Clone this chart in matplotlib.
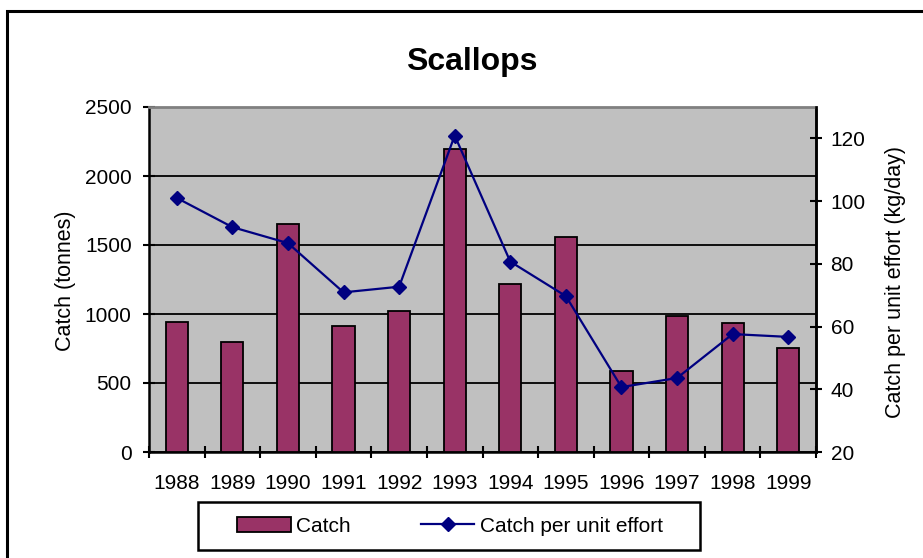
import matplotlib
matplotlib.use("Agg")
import matplotlib.pyplot as plt
from matplotlib.lines import Line2D
from matplotlib.patches import Patch, Rectangle
import numpy as np

years = ["1988", "1989", "1990", "1991", "1992", "1993",
         "1994", "1995", "1996", "1997", "1998", "1999"]
catch = [945, 795, 1650, 910, 1020, 2195, 1215, 1555, 590, 985, 935, 755]
cpue = [101, 91.7, 86.6, 70.9, 72.7, 120.9, 80.7, 69.7, 40.7, 43.6, 57.6, 56.7]

W, H = 923, 558
plt.rcParams['font.family'] = ['Liberation Sans', 'DejaVu Sans']
fig = plt.figure(figsize=(W / 100, H / 100), dpi=100)

L, R, T, B = 149, 816, 107, 452
ax = fig.add_axes([L / W, 1 - B / H, (R - L) / W, (B - T) / H])
ax.set_facecolor('#C0C0C0')
x = np.arange(len(years))
ax.bar(x, catch, width=0.4, color='#993366', edgecolor='black', linewidth=1.3, zorder=3)
ax.set_xlim(-0.5, len(years) - 0.5)
ax.set_ylim(0, 2500)
ax.set_yticks(np.arange(0, 2501, 500))
ax.yaxis.grid(True, color='black', linewidth=1.3, zorder=1)
ax.set_axisbelow(True)
ax.set_xticks(x)
ax.set_xticklabels(years)
ax.set_xticks(np.arange(-0.5, len(years), 1), minor=True)
ax.tick_params(axis='x', which='major', length=0, pad=16, labelsize=15)
ax.tick_params(axis='x', which='minor', direction='inout', length=9, width=1.5)
ax.tick_params(axis='y', direction='inout', length=9, width=1.5, pad=8, labelsize=15)
for s in ['left', 'bottom', 'right']:
    ax.spines[s].set_linewidth(1.8)
ax.spines['top'].set_color('#808080')
ax.spines['top'].set_linewidth(2)

ax2 = ax.twinx()
ax2.plot(x, cpue, color='#000080', linewidth=1.6, marker='D', markersize=7.3,
         markerfacecolor='#000080', markeredgecolor='#000080', zorder=4)
ax2.set_ylim(20, 130)
ax2.set_yticks(np.arange(20, 121, 20))
ax2.tick_params(axis='y', direction='inout', length=9, width=1.5, pad=6, labelsize=15)
ax2.spines['right'].set_linewidth(1.8)
ax2.spines['top'].set_visible(False)
ax2.spines['left'].set_visible(False)
ax2.spines['bottom'].set_visible(False)

fig.text(472 / W, 1 - 62 / H, "Scallops", ha='center', va='center',
         fontsize=23, fontweight='bold')
fig.text(65 / W, 1 - 281 / H, "Catch (tonnes)", rotation=90, ha='center',
         va='center', fontsize=15.5)
fig.text(895 / W, 1 - 282 / H, "Catch per unit effort (kg/day)", rotation=90,
         ha='center', va='center', fontsize=15.5)

# legend frame drawn explicitly
fig.patches.append(Rectangle((198 / W, 1 - 550 / H), (700 - 198) / W, 48 / H,
                             transform=fig.transFigure, fill=True,
                             facecolor='white', edgecolor='black',
                             linewidth=1.8, zorder=5))
handles = [Patch(facecolor='#993366', edgecolor='black', linewidth=1.3),
           Line2D([0], [0], color='#000080', linewidth=1.6, marker='D',
                  markersize=7.3, markerfacecolor='#000080')]
leg = fig.legend(handles, ["Catch", "Catch per unit effort"], ncol=2,
                 loc='center', bbox_to_anchor=(450 / W, 1 - 526 / H),
                 fontsize=15, frameon=False,
                 handlelength=2.55, handletextpad=0.25, columnspacing=3.4,
                 borderpad=0.3)
leg.set_zorder(6)

# outer chart border (extends beyond right/bottom edge)
fig.patches.append(Rectangle((7 / W, -0.1), 1.2, 1 - 11 / H + 0.1,
                             transform=fig.transFigure, fill=False,
                             edgecolor='black', linewidth=2.2))

fig.savefig("out.png", dpi=100)
